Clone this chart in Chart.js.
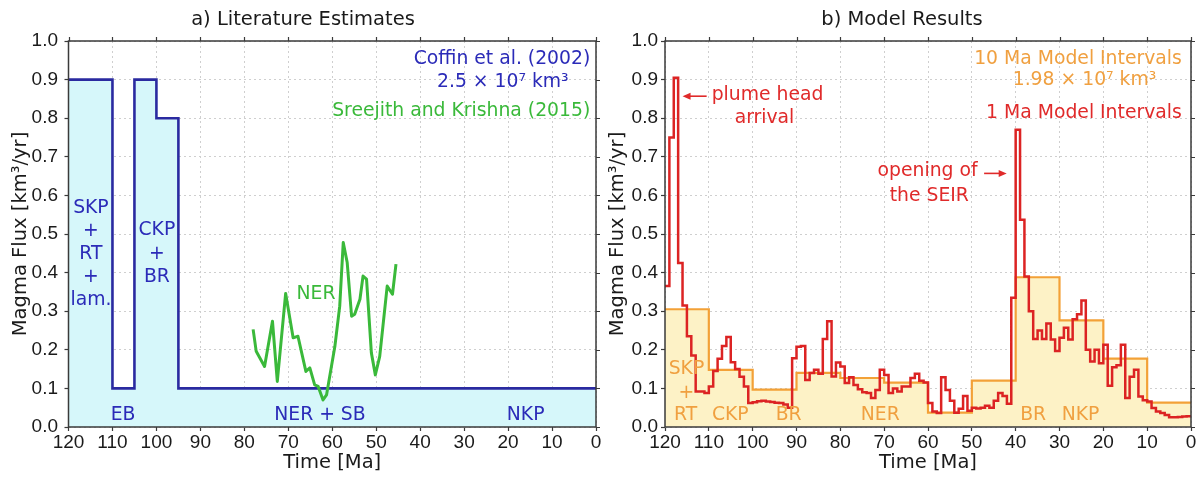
<!DOCTYPE html>
<html><head><meta charset="utf-8">
<script src="https://cdn.jsdelivr.net/npm/chart.js@4.4.1/dist/chart.umd.min.js"></script>
<style>
html,body{margin:0;padding:0;background:#fff;}
#wrap{position:relative;width:1204px;height:479px;overflow:hidden;}
.p{position:absolute;top:0;width:602px;height:479px;}
canvas{display:block;}
</style>
</head><body>
<div id="wrap">
<div class="p" style="left:0"><canvas id="c1" width="602" height="479"></canvas></div>
<div class="p" style="left:602px"><canvas id="c2" width="602" height="479"></canvas></div>
</div>
<script>
// ---------- data ----------
const timeTicks = [120,110,100,90,80,70,60,50,40,30,20,10,0];
const fluxTicks = [0,0.1,0.2,0.3,0.4,0.5,0.6,0.7,0.8,0.9,1.0];

// a) Coffin et al. (2002) step estimate
const coffinEdges = [120,110,105,100,95,0];
const coffinFlux  = [0.9,0.1,0.9,0.8,0.1];

// a) Sreejith and Krishna (2015) NER
const nerTime = [78.0,77.3,75.4,73.6,72.5,70.6,68.9,67.8,66.0,65.1,64.0,63.2,62.1,61.3,59.4,58.3,57.5,56.6,55.6,54.9,53.7,53.0,52.2,51.1,50.2,49.2,47.5,46.3,45.5];
const nerFlux = [0.253,0.196,0.157,0.274,0.118,0.346,0.231,0.235,0.144,0.153,0.109,0.105,0.070,0.083,0.209,0.313,0.478,0.426,0.287,0.292,0.331,0.391,0.383,0.192,0.135,0.183,0.365,0.344,0.422];

// b) 10 Ma model intervals
const model10Edges = [120,110,100,90,80,70,60,50,40,30,20,10,0];
const model10Flux  = [0.305,0.148,0.097,0.14,0.127,0.115,0.037,0.12,0.388,0.276,0.177,0.063];

// b) 1 Ma model intervals (120 Ma -> 0 Ma)
const model1Flux = [
 0.365,0.75,0.905,0.425,0.315,0.235,0.185,0.092,0.092,0.088,
 0.105,0.145,0.177,0.21,0.233,0.168,0.15,0.13,0.105,0.062,
 0.064,0.067,0.068,0.066,0.065,0.063,0.062,0.058,0.05,0.178,
 0.208,0.21,0.122,0.14,0.148,0.138,0.228,0.274,0.131,0.167,
 0.157,0.114,0.129,0.109,0.098,0.09,0.088,0.075,0.096,0.148,
 0.135,0.088,0.1,0.092,0.105,0.105,0.127,0.138,0.12,0.115,
 0.062,0.04,0.036,0.129,0.096,0.068,0.037,0.047,0.08,0.042,
 0.05,0.048,0.05,0.055,0.05,0.068,0.088,0.08,0.06,0.335,
 0.77,0.537,0.39,0.3,0.228,0.25,0.228,0.268,0.227,0.197,
 0.231,0.257,0.227,0.279,0.292,0.328,0.2,0.17,0.2,0.165,
 0.213,0.107,0.155,0.16,0.213,0.075,0.13,0.148,0.079,0.069,
 0.066,0.049,0.04,0.036,0.031,0.025,0.025,0.026,0.027,0.028];
const model1Edges = model1Flux.map((v,i)=>120-i).concat([0]);

// ---------- styles ----------
const TICKF = '"Liberation Sans", Arial, sans-serif';
const TXTF  = '"DejaVu Sans", Verdana, sans-serif';
const BLUE='#2b2bb8', GREEN='#3ab93a', ORANGE='#f0a040', RED='#e02a2a';

function stepPoints(edges, vals){
  const pts = vals.map((v,i)=>({x:edges[i], y:v}));
  pts.push({x:edges[edges.length-1], y:vals[vals.length-1]});
  return pts;
}

function makeScales(yWidth, yPad, yTitlePad){
  return {
    x:{type:'linear', min:0, max:120, reverse:true,
      afterBuildTicks:s=>{s.ticks = timeTicks.map(v=>({value:v}));},
      afterFit:s=>{s.height = 52;},
      ticks:{font:{family:TICKF,size:19}, color:'#1a1a1a', padding:0, maxRotation:0, autoSkip:false, callback:v=>String(v)},
      grid:{color:'#cfcfcf', lineWidth:1, tickLength:4, tickColor:'#3a3a3a', tickWidth:1.2, tickBorderDash:[]},
      border:{display:false, dash:[2,3]},
      title:{display:true, text:'Time [Ma]', font:{family:TXTF,size:19.5}, color:'#1a1a1a', padding:{top:0,bottom:4}}
    },
    y:{type:'linear', min:0, max:1,
      afterBuildTicks:s=>{s.ticks = fluxTicks.map(v=>({value:v}));},
      afterFit:s=>{s.width = yWidth;},
      ticks:{font:{family:TICKF,size:19}, color:'#1a1a1a', padding:yPad, autoSkip:false, callback:v=>Number(v).toFixed(1)},
      grid:{color:'#cfcfcf', lineWidth:1, tickLength:4, tickColor:'#3a3a3a', tickWidth:1.2, tickBorderDash:[]},
      border:{display:false, dash:[2,3]},
      title:{display:true, text:'Magma Flux [km³/yr]', font:{family:TXTF,size:19.5}, color:'#1a1a1a', padding:{top:yTitlePad,bottom:0}}
    }
  };
}

function makePlugin(cfg){
  return {
    id:'deco_'+cfg.name,
    afterDatasetsDraw(chart){
      const {ctx, chartArea:a, scales:{x,y}} = chart;
      ctx.save();
      // frame
      ctx.strokeStyle='#3a3a3a'; ctx.lineWidth=1.5; ctx.setLineDash([]);
      ctx.strokeRect(a.left, a.top, a.right-a.left, a.bottom-a.top);
      ctx.lineWidth=1.2;
      ctx.beginPath();
      timeTicks.forEach(t=>{const px=Math.round(x.getPixelForValue(t))+0.5; ctx.moveTo(px,a.top); ctx.lineTo(px,a.top-4);});
      fluxTicks.forEach(v=>{const py=Math.round(y.getPixelForValue(v))+0.5; ctx.moveTo(a.right,py); ctx.lineTo(a.right+4,py);});
      ctx.stroke();
      // texts
      ctx.font = '18.8px '+TXTF;
      ctx.textBaseline='middle';
      cfg.texts.forEach(it=>{
        ctx.fillStyle = it.c; ctx.textAlign = it.align||'center';
        ctx.fillText(it.t, x.getPixelForValue(it.x), y.getPixelForValue(it.y));
      });
      // arrows
      (cfg.arrows||[]).forEach(ar=>{
        const x1=x.getPixelForValue(ar.x1), x2=x.getPixelForValue(ar.x2), py=y.getPixelForValue(ar.y);
        const dir = Math.sign(x2-x1);
        ctx.strokeStyle=ar.c; ctx.fillStyle=ar.c; ctx.lineWidth=1.6;
        ctx.beginPath(); ctx.moveTo(x1,py); ctx.lineTo(x2-dir*6,py); ctx.stroke();
        ctx.beginPath(); ctx.moveTo(x2,py); ctx.lineTo(x2-dir*8,py-3.5); ctx.lineTo(x2-dir*8,py+3.5); ctx.closePath(); ctx.fill();
      });
      // panel title
      ctx.font = '19.5px '+TXTF;
      ctx.fillStyle='#1a1a1a'; ctx.textAlign='center';
      ctx.fillText(cfg.title, cfg.titleX, 20);
      ctx.restore();
    }
  };
}

const textsA = [
  {t:'Coffin et al. (2002)', x:1.3, y:0.954, align:'right', c:BLUE},
  {t:'2.5 × 10⁷ km³', x:21.2, y:0.894, c:BLUE},
  {t:'Sreejith and Krishna (2015)', x:1.3, y:0.818, align:'right', c:GREEN},
  {t:'SKP', x:114.9, y:0.566, c:BLUE},
  {t:'+', x:114.9, y:0.508, c:BLUE},
  {t:'RT', x:114.9, y:0.4475, c:BLUE},
  {t:'+', x:114.9, y:0.388, c:BLUE},
  {t:'lam.', x:114.9, y:0.328, c:BLUE},
  {t:'CKP', x:99.9, y:0.51, c:BLUE},
  {t:'+', x:99.9, y:0.447, c:BLUE},
  {t:'BR', x:99.9, y:0.389, c:BLUE},
  {t:'EB', x:107.6, y:0.031, c:BLUE},
  {t:'NER + SB', x:62.8, y:0.031, c:BLUE},
  {t:'NKP', x:16, y:0.031, c:BLUE},
  {t:'NER', x:63.7, y:0.343, c:GREEN}
];
const textsB = [
  {t:'10 Ma Model Intervals', x:2.1, y:0.954, align:'right', c:ORANGE},
  {t:'1.98 × 10⁷ km³', x:24.3, y:0.898, c:ORANGE},
  {t:'1 Ma Model Intervals', x:2.1, y:0.814, align:'right', c:RED},
  {t:'plume head', x:109.35, y:0.861, align:'left', c:RED},
  {t:'arrival', x:97.3, y:0.80, c:RED},
  {t:'opening of', x:48.7, y:0.663, align:'right', c:RED},
  {t:'the SEIR', x:59.7, y:0.598, c:RED},
  {t:'SKP', x:115.1, y:0.15, c:ORANGE},
  {t:'+', x:115.1, y:0.089, c:ORANGE},
  {t:'RT', x:115.3, y:0.03, c:ORANGE},
  {t:'CKP', x:105.1, y:0.03, c:ORANGE},
  {t:'BR', x:91.8, y:0.03, c:ORANGE},
  {t:'NER', x:70.9, y:0.03, c:ORANGE},
  {t:'BR', x:36, y:0.03, c:ORANGE},
  {t:'NKP', x:25.2, y:0.03, c:ORANGE}
];
const arrowsB = [
  {x1:110.5, x2:116.0, y:0.857, c:RED},
  {x1:47.2, x2:42.05, y:0.657, c:RED}
];

const common = {responsive:false, animation:false, devicePixelRatio:1, events:[],
  plugins:{legend:{display:false}, tooltip:{enabled:false}, title:{display:false}}};

new Chart(document.getElementById('c1'), {
  type:'line',
  data:{datasets:[
    {data:nerTime.map((t,i)=>({x:t,y:nerFlux[i]})), borderColor:GREEN, borderWidth:3, pointRadius:0, fill:false, tension:0, borderJoinStyle:'round', order:0},
    {data:stepPoints(coffinEdges, coffinFlux), stepped:true, borderColor:'#2a2aa0', borderWidth:2.6, pointRadius:0, fill:'origin', backgroundColor:'#d6f7fa', order:1}
  ]},
  options:Object.assign({}, common, {
    layout:{padding:{left:0,right:6,top:41,bottom:0}},
    scales:makeScales(68.5, 6.5, 9.5)
  }),
  plugins:[makePlugin({name:'a', texts:textsA, title:'a) Literature Estimates', titleX:303})]
});

new Chart(document.getElementById('c2'), {
  type:'line',
  data:{datasets:[
    {data:stepPoints(model1Edges, model1Flux), stepped:true, borderColor:'#dc2323', borderWidth:2.5, pointRadius:0, fill:false, order:0},
    {data:stepPoints(model10Edges, model10Flux), stepped:true, borderColor:'#f3a137', borderWidth:2.2, pointRadius:0, fill:'origin', backgroundColor:'#fdf2c6', order:1}
  ]},
  options:Object.assign({}, common, {
    layout:{padding:{left:0,right:13,top:41,bottom:0}},
    scales:makeScales(63, 3, 4)
  }),
  plugins:[makePlugin({name:'b', texts:textsB, arrows:arrowsB, title:'b) Model Results', titleX:300})]
});
</script>
</body></html>
